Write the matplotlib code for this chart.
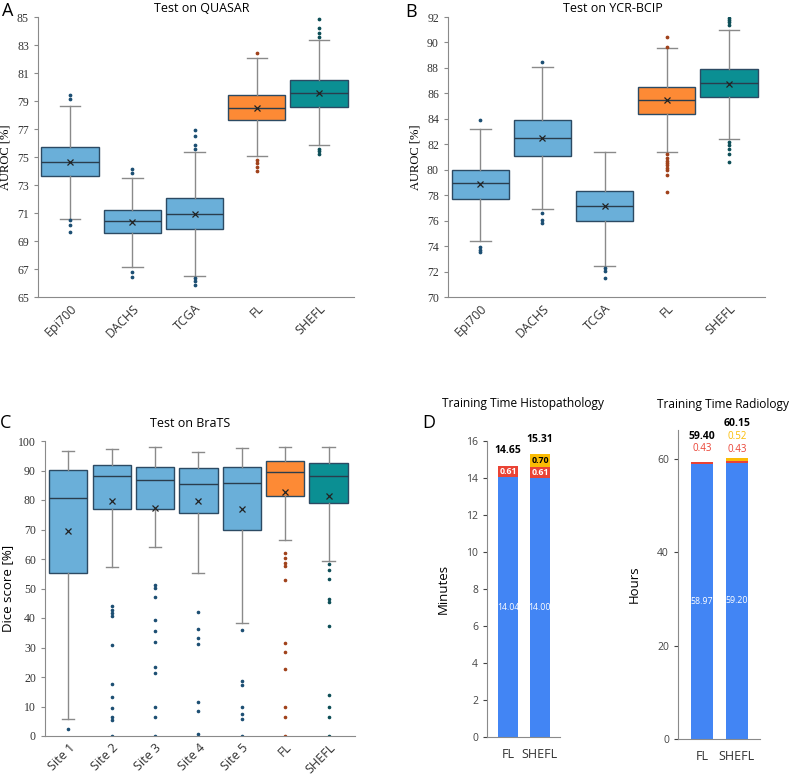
import matplotlib
matplotlib.use("Agg")
import matplotlib.pyplot as plt

# ---- panel A: Test on QUASAR (AUROC %) ----
a_labels = ["Epi700", "DACHS", "TCGA", "FL", "SHEFL"]
a_q1 = [73.67, 69.57, 69.83, 77.64, 78.60]
a_med = [74.64, 70.43, 70.93, 78.50, 79.57]
a_q3 = [75.71, 71.19, 72.05, 79.40, 80.48]
a_lo = [70.60, 67.14, 66.52, 75.07, 75.83]
a_hi = [78.67, 73.52, 75.38, 82.10, 83.36]
a_mean = [74.65, 70.38, 70.93, 78.52, 79.55]
a_fliers = [
    [79.40, 79.17, 70.50, 70.17, 69.64],
    [74.17, 73.86, 66.79, 66.43],
    [76.95, 76.50, 75.83, 75.60, 66.36, 66.12, 65.86],
    [82.45, 74.81, 74.57, 74.26, 73.98],
    [84.88, 84.19, 83.86, 83.55, 75.60, 75.40, 75.24],
]

# ---- panel B: Test on YCR-BCIP (AUROC %) ----
b_labels = ["Epi700", "DACHS", "TCGA", "FL", "SHEFL"]
b_q1 = [77.67, 81.08, 76.00, 84.40, 85.69]
b_med = [78.96, 82.47, 77.12, 85.50, 86.81]
b_q3 = [80.00, 83.88, 78.30, 86.50, 87.94]
b_lo = [74.43, 76.91, 72.46, 81.40, 82.41]
b_hi = [83.23, 88.05, 81.40, 89.59, 91.00]
b_mean = [78.88, 82.47, 77.12, 85.45, 86.76]
b_fliers = [
    [83.90, 73.93, 73.72, 73.54],
    [88.44, 76.63, 76.08, 75.82],
    [72.25, 72.02, 71.49],
    [90.46, 89.67, 81.24, 80.92, 80.70, 80.53, 80.34, 80.14, 79.95, 79.61, 78.22],
    [91.92, 91.74, 91.58, 91.37, 82.15, 81.91, 81.62, 81.26, 80.58],
]

# ---- panel C: Test on BraTS (Dice %) ----
c_labels = ["Site 1", "Site 2", "Site 3", "Site 4", "Site 5", "FL", "SHEFL"]
c_q1 = [55.4, 76.9, 77.0, 75.6, 70.0, 81.2, 78.9]
c_med = [80.7, 88.1, 86.9, 85.4, 85.9, 89.5, 88.1]
c_q3 = [90.1, 91.9, 91.2, 91.0, 91.2, 93.1, 92.5]
c_lo = [5.6, 57.2, 63.9, 55.1, 38.3, 66.4, 59.4]
c_hi = [96.5, 97.3, 98.0, 96.3, 97.6, 98.0, 98.0]
c_mean = [69.5, 79.5, 77.2, 79.6, 77.0, 82.7, 81.5]
c_fliers = [
    [2.3],
    [44.2, 42.8, 41.8, 40.6, 30.8, 17.6, 13.2, 9.5, 6.5, 5.4, 0.0],
    [51.2, 50.2, 47.1, 39.4, 35.6, 31.9, 23.3, 21.4, 9.9, 6.3, 0.0],
    [41.9, 36.3, 33.3, 31.3, 11.4, 8.5, 0.6],
    [36.0, 18.5, 17.2, 9.7, 7.4, 5.6, 0.0],
    [61.9, 60.2, 58.8, 57.6, 52.8, 31.4, 28.4, 22.8, 9.9, 6.5, 0.0],
    [58.4, 56.2, 53.3, 46.5, 45.4, 37.2, 13.9, 10.0, 6.5, 0.0],
]

# ---- panel D: training time ----
d_labels = ["FL", "SHEFL"]
hist_blue = [14.04, 14.00]
hist_red = [0.61, 0.61]
hist_yellow = [0.0, 0.70]
hist_total = [14.65, 15.31]
rad_blue = [58.97, 59.20]
rad_red = [0.43, 0.43]
rad_yellow = [0.0, 0.52]
rad_total = [59.40, 60.15]

W, H = 792, 777
BLUE_BOX, ORANGE_BOX, TEAL_BOX = "#6AAFD9", "#FD8A35", "#0B8F93"
BLUE_FL, ORANGE_FL, TEAL_FL = "#1D4F73", "#A0421B", "#0D4E57"
EDGE = "#2C4A63"
GREY = "#8A8A8A"
SANS = "Open Sans"
SERIF = "Liberation Serif"
G_BLUE, G_RED, G_YEL = "#4285F4", "#EA4335", "#FBBC04"

fig = plt.figure(figsize=(W / 100, H / 100), dpi=100)


def px_axes(l, t, r, b):
    return fig.add_axes([l / W, 1 - b / H, (r - l) / W, (b - t) / H])


def style_spines(ax):
    ax.spines["top"].set_visible(False)
    ax.spines["right"].set_visible(False)
    ax.spines["left"].set_color(GREY)
    ax.spines["bottom"].set_color(GREY)
    ax.tick_params(colors="#333333", length=3, width=0.8, color=GREY)


def draw_boxes(ax, q1, med, q3, lo, hi, mean, fliers, width, capw, msize):
    n = len(q1)
    stats = []
    for i in range(n):
        stats.append(dict(q1=q1[i], med=med[i], q3=q3[i], whislo=lo[i],
                          whishi=hi[i], mean=mean[i], fliers=fliers[i]))
    box_cols = [BLUE_BOX] * (n - 2) + [ORANGE_BOX, TEAL_BOX]
    fl_cols = [BLUE_FL] * (n - 2) + [ORANGE_FL, TEAL_FL]
    pos = list(range(1, n + 1))
    for i in range(n):
        ax.bxp([stats[i]], positions=[pos[i]], widths=width, capwidths=capw,
               patch_artist=True, showmeans=True,
               boxprops=dict(facecolor=box_cols[i], edgecolor=EDGE, linewidth=1.0),
               medianprops=dict(color="#2A3D4D", linewidth=1.0),
               whiskerprops=dict(color=GREY, linewidth=1.0),
               capprops=dict(color=GREY, linewidth=1.0),
               meanprops=dict(marker="x", markeredgecolor="#222222",
                              markersize=4, markeredgewidth=0.9),
               flierprops=dict(marker="o", markerfacecolor=fl_cols[i],
                               markeredgecolor=fl_cols[i], markersize=msize))
    return pos


# ---- A ----
ax = px_axes(38, 17, 354, 297)
pos = draw_boxes(ax, a_q1, a_med, a_q3, a_lo, a_hi, a_mean, a_fliers, 0.92, 0.33, 1.7)
ax.set_xlim(0.486, 5.56)
ax.set_ylim(65, 85)
ax.set_yticks(range(65, 86, 2))
ax.set_xticks(pos)
ax.set_xticklabels(a_labels, rotation=45, ha="right", rotation_mode="anchor",
                   fontsize=9, family=SANS)
for t in ax.get_yticklabels():
    t.set_family(SERIF)
    t.set_fontsize(8.5)
ax.set_ylabel("AUROC [%]", family=SERIF, fontsize=9, labelpad=4)
style_spines(ax)
ax.tick_params(axis="x", length=0)
fig.text(202 / W, 1 - 8 / H, "Test on QUASAR", ha="center", va="center",
         family=SANS, fontsize=9)
fig.text(2 / W, 1 - 11 / H, "A", ha="left", va="center", family=SANS, fontsize=13)

# ---- B ----
ax = px_axes(448, 17, 765, 297)
pos = draw_boxes(ax, b_q1, b_med, b_q3, b_lo, b_hi, b_mean, b_fliers, 0.92, 0.33, 1.7)
ax.set_xlim(0.48, 5.58)
ax.set_ylim(70, 92)
ax.set_yticks(range(70, 93, 2))
ax.set_xticks(pos)
ax.set_xticklabels(b_labels, rotation=45, ha="right", rotation_mode="anchor",
                   fontsize=9, family=SANS)
for t in ax.get_yticklabels():
    t.set_family(SERIF)
    t.set_fontsize(8.5)
ax.set_ylabel("AUROC [%]", family=SERIF, fontsize=9, labelpad=4)
style_spines(ax)
ax.tick_params(axis="x", length=0)
fig.text(613 / W, 1 - 8 / H, "Test on YCR-BCIP", ha="center", va="center",
         family=SANS, fontsize=9)
fig.text(405 / W, 1 - 12 / H, "B", ha="left", va="center", family=SANS, fontsize=13)

# ---- C ----
ax = px_axes(45, 441, 355, 736)
pos = draw_boxes(ax, c_q1, c_med, c_q3, c_lo, c_hi, c_mean, c_fliers, 0.88, 0.28, 1.6)
ax.set_xlim(0.463, 7.61)
ax.set_ylim(0, 100)
ax.set_yticks(range(0, 101, 10))
ax.set_xticks(pos)
ax.set_xticklabels(c_labels, rotation=45, ha="right", rotation_mode="anchor",
                   fontsize=9, family=SANS)
for t in ax.get_yticklabels():
    t.set_family(SERIF)
    t.set_fontsize(8.5)
ax.set_ylabel("Dice score [%]", family=SANS, fontsize=9.5, labelpad=3)
style_spines(ax)
ax.tick_params(axis="x", length=0)
fig.text(190 / W, 1 - 424 / H, "Test on BraTS", ha="center", va="center",
         family=SANS, fontsize=9)
fig.text(0 / W, 1 - 423 / H, "C", ha="left", va="center", family=SANS, fontsize=13)


# ---- D ----
def stacked(ax, blue, red, yellow, total, red_inside, tot_off, red_off, yel_off):
    x = range(len(blue))
    bottoms2 = [blue[i] + red[i] for i in x]
    ax.bar(x, blue, width=0.63, color=G_BLUE)
    ax.bar(x, red, bottom=blue, width=0.63, color=G_RED)
    ax.bar(x, yellow, bottom=bottoms2, width=0.63, color=G_YEL)
    for i in x:
        ax.text(i, blue[i] / 2, f"{blue[i]:.2f}", ha="center", va="center",
                color="white", fontsize=6.3, family=SANS)
        if red_inside:
            ax.text(i, blue[i] + red[i] / 2, f"{red[i]:.2f}", ha="center",
                    va="center", color="white", fontsize=6.3, fontweight="bold",
                    family=SANS)
            if yellow[i] > 0:
                ax.text(i, bottoms2[i] + yellow[i] / 2, f"{yellow[i]:.2f}",
                        ha="center", va="center", color="black", fontsize=6.3,
                        fontweight="bold", family=SANS)
        else:
            ax.annotate(f"{red[i]:.2f}", (i, total[i]), xytext=(0, red_off[i]),
                        textcoords="offset pixels", ha="center", va="center",
                        color=G_RED, fontsize=7, family=SANS, annotation_clip=False)
            if yellow[i] > 0:
                ax.annotate(f"{yellow[i]:.2f}", (i, total[i]), xytext=(0, yel_off[i]),
                            textcoords="offset pixels", ha="center", va="center",
                            color=G_YEL, fontsize=7, family=SANS,
                            annotation_clip=False)
        ax.annotate(f"{total[i]:.2f}", (i, total[i]), xytext=(0, tot_off[i]),
                    textcoords="offset pixels", ha="center", va="center",
                    color="black", fontsize=7.5, fontweight="bold", family=SANS,
                    annotation_clip=False)
    ax.set_xticks(list(x))
    ax.set_xticklabels(d_labels, fontsize=9, family=SANS)
    style_spines(ax)
    ax.tick_params(axis="x", length=0, pad=8)
    ax.tick_params(axis="y", labelsize=7.5, colors="#444444")
    for t in ax.get_yticklabels():
        t.set_family(SANS)


ax = px_axes(487, 441, 560, 737)
stacked(ax, hist_blue, hist_red, hist_yellow, hist_total, True,
        [15, 14], [0, 0], [0, 0])
ax.set_xlim(-0.66, 1.63)
ax.set_ylim(0, 16)
ax.set_yticks(range(0, 17, 2))
ax.set_ylabel("Minutes", family=SANS, fontsize=9.5, labelpad=12)
fig.text(523 / W, 1 - 404 / H, "Training Time Histopathology", ha="center",
         va="center", family=SANS, fontsize=8.6)
fig.text(422 / W, 1 - 423 / H, "D", ha="left", va="center", family=SANS, fontsize=13)

ax = px_axes(678, 430, 760, 739)
stacked(ax, rad_blue, rad_red, rad_yellow, rad_total, False,
        [25, 35], [13, 9], [0, 22])
ax.set_xlim(-0.69, 1.66)
ax.set_ylim(0, 66.2)
ax.set_yticks([0, 20, 40, 60])
ax.set_ylabel("Hours", family=SANS, fontsize=9.5, labelpad=12)
fig.text(723 / W, 1 - 405 / H, "Training Time Radiology", ha="center",
         va="center", family=SANS, fontsize=8.6)

fig.savefig("out.png", dpi=100, facecolor="white")
